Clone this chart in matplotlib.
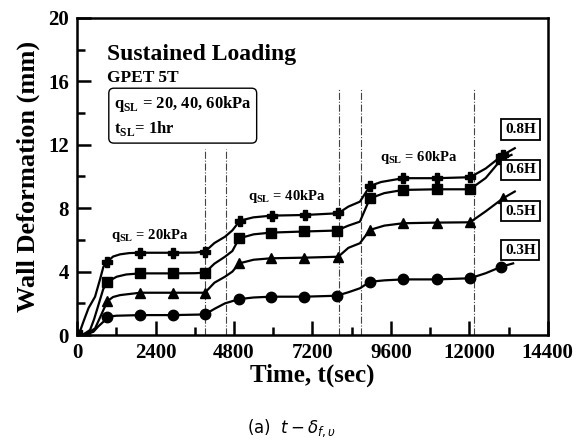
import matplotlib
matplotlib.use('Agg')
import matplotlib.pyplot as plt

# curves (time in sec, deformation in mm)
t_08 = [0, 100, 193, 350, 550, 700, 804, 930, 1100, 1315, 1600, 1930, 2940, 3600, 3910,
        4200, 4524, 4750, 4980, 5390, 5950, 6970, 7990, 8300, 8652, 8960, 9300, 9975,
        11000, 12020, 12500, 13030, 13390]
d_08 = [0, 0.3, 0.84, 1.7, 2.42, 3.5, 4.3, 4.63, 4.95, 5.09, 5.17, 5.19, 5.19, 5.2, 5.26,
        5.8, 6.2, 6.6, 7.21, 7.42, 7.53, 7.57, 7.68, 8.1, 8.41, 9.4, 9.65, 9.89,
        9.89, 9.95, 10.5, 11.36, 11.78]

t_06 = [0, 200, 397, 520, 652, 800, 930, 1213, 1500, 1930, 2940, 3600, 3910,
        4200, 4524, 4750, 4960, 5400, 5930, 6950, 7940, 8300, 8652, 8850, 8960, 9400, 9975,
        11000, 12020, 12500, 12980, 13290]
d_06 = [0, 0.05, 0.32, 1.0, 1.89, 2.9, 3.36, 3.68, 3.82, 3.89, 3.89, 3.9, 3.93,
        4.5, 4.94, 5.3, 6.1, 6.35, 6.46, 6.53, 6.59, 6.9, 7.15, 8.1, 8.62, 8.95, 9.15,
        9.19, 9.19, 9.9, 11.08, 11.36]

t_05 = [0, 300, 550, 700, 804, 930, 1100, 1315, 1930, 2940, 3910,
        4200, 4524, 4750, 4960, 5400, 5930, 6950, 7990, 8300, 8652, 8960, 9400, 9975,
        11000, 12020, 12500, 13030, 13390]
d_05 = [0, 0.1, 0.42, 1.1, 1.58, 2.14, 2.4, 2.52, 2.67, 2.67, 2.67,
        3.3, 3.68, 4.0, 4.52, 4.75, 4.84, 4.88, 4.94, 5.5, 5.79, 6.63, 6.9, 7.05,
        7.09, 7.11, 7.8, 8.62, 9.05]

t_03 = [0, 300, 500, 650, 804, 930, 1200, 1930, 2940, 3910,
        4200, 4524, 4960, 5400, 5930, 6950, 7940, 8300, 8652, 8960, 9400, 9975,
        11000, 12020, 12500, 12980, 13340]
d_03 = [0, 0.05, 0.21, 0.55, 0.84, 1.16, 1.22, 1.26, 1.26, 1.30,
        1.65, 2.0, 2.27, 2.37, 2.42, 2.42, 2.48, 2.7, 2.95, 3.36, 3.45, 3.51,
        3.51, 3.58, 3.9, 4.31, 4.52]

# which points carry a marker
mk_08 = [0, 7, 11, 12, 14, 18, 20, 21, 22, 25, 27, 28, 29, 31]
mk_06 = [0, 6, 9, 10, 12, 16, 18, 19, 20, 24, 26, 27, 28, 30]
mk_05 = [0, 5, 8, 9, 10, 14, 16, 17, 18, 21, 23, 24, 25, 27]
mk_03 = [0, 5, 7, 8, 9, 12, 14, 15, 16, 19, 21, 22, 23, 25]

series_names = ['0.8H', '0.6H', '0.5H', '0.3H']
label_pos = [(13560, 12.94), (13560, 10.41), (13560, 7.82), (13560, 5.36)]

# loading-step markers (dash-dot lines)
step_x = [3910, 4550, 8000, 8680, 12130]
step_top = [11.7, 11.7, 15.6, 15.6, 15.6]

load_text = [(2230, 6.25, '20kPa'), (6420, 8.71, '40kPa'), (10460, 11.17, '60kPa')]

serif = 'Liberation Serif'

fig = plt.figure(figsize=(5.84, 4.45), dpi=100)
ax = fig.add_axes([0.132, 0.247, 0.806, 0.713])

for x, top in zip(step_x, step_top):
    ax.plot([x, x], [0, top], color='#444444', lw=0.8, ls='-.', zorder=1)

ax.plot(t_08, d_08, color='k', lw=1.6, marker='P', ms=7, markevery=mk_08)
ax.plot(t_06, d_06, color='k', lw=1.6, marker='s', ms=7.5, markevery=mk_06)
ax.plot(t_05, d_05, color='k', lw=1.6, marker='^', ms=6.5, markevery=mk_05)
ax.plot(t_03, d_03, color='k', lw=1.6, marker='o', ms=7.5, markevery=mk_03)

for name, (x, y) in zip(series_names, label_pos):
    ax.text(x, y, name, ha='center', va='center', fontsize=11, fontfamily=serif,
            fontweight='bold',
            bbox=dict(boxstyle='square,pad=0.25', fc='white', ec='k', lw=1.3))

for x, y, s in load_text:
    ax.text(x, y, r'q$_{\mathregular{SL}}$ = ' + s, ha='center', va='center',
            fontsize=10.5, fontfamily=serif, fontweight='bold')

ax.text(0.064, 0.885, 'Sustained Loading', transform=ax.transAxes, fontsize=17,
        fontfamily=serif, fontweight='bold', va='center')
ax.text(0.064, 0.81, 'GPET 5T', transform=ax.transAxes, fontsize=12.5,
        fontfamily=serif, fontweight='bold', va='center')
ax.text(0.078, 0.69, 'q$_{\\mathregular{SL}}$ = 20, 40, 60kPa\nt$_{\\mathregular{SL}}$= 1hr',
        transform=ax.transAxes, fontsize=12, fontfamily=serif, fontweight='bold',
        va='center', linespacing=1.35,
        bbox=dict(boxstyle='round,pad=0.3', fc='white', ec='k', lw=1.0))

ax.set_xlim(0, 14400)
ax.set_ylim(0, 20)
ax.set_xticks(range(0, 14401, 2400))
ax.set_xticks(range(1200, 14400, 2400), minor=True)
ax.set_yticks(range(0, 21, 4))
ax.set_yticks(range(2, 20, 4), minor=True)
ax.tick_params(which='both', direction='in', width=1.8, color='k')
ax.tick_params(which='major', length=10, labelsize=15, pad=6)
ax.tick_params(which='minor', length=6)
for lab in ax.get_xticklabels() + ax.get_yticklabels():
    lab.set_fontfamily(serif)
    lab.set_fontweight('bold')
for sp in ax.spines.values():
    sp.set_linewidth(1.8)

ax.set_xlabel('Time, t(sec)', fontsize=18, fontfamily=serif, fontweight='bold', labelpad=0)
ax.set_ylabel('Wall Deformation (mm)', fontsize=19, fontfamily=serif, fontweight='bold',
              labelpad=6)

fig.text(0.5, 0.038, r'(a)  $t-\delta_{f,\upsilon}$', ha='center', va='center',
         fontsize=12, fontfamily='DejaVu Sans')

fig.savefig('out.png', dpi=100)
